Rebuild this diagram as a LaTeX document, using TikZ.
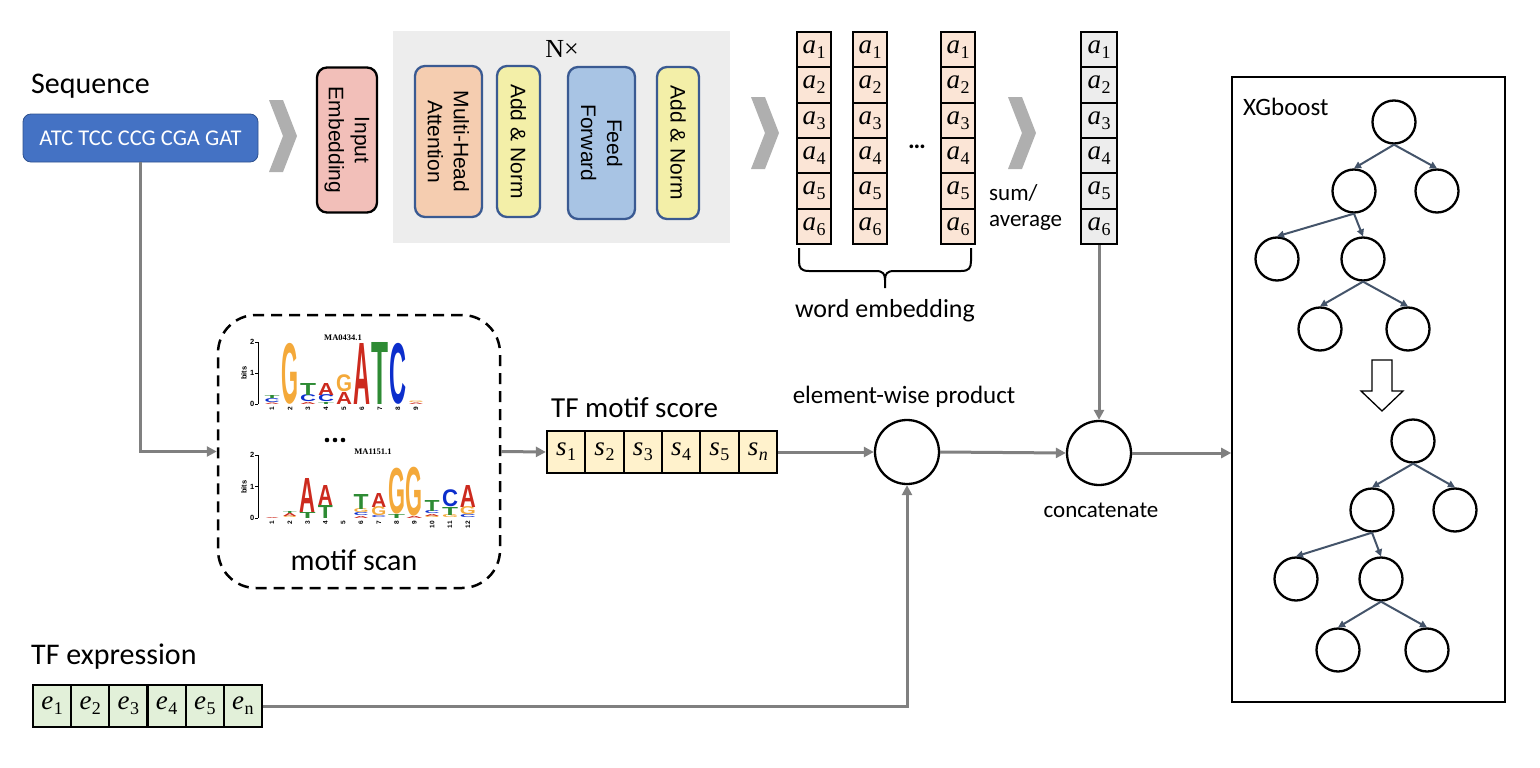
\documentclass[tikz,border=0pt]{standalone}
\usepackage{fontspec}
\setmainfont{Carlito}
\newfontfamily\arialf{Liberation Sans}
\newfontfamily\timesf{Liberation Serif}
\usetikzlibrary{arrows.meta}
\definecolor{seqblue}{HTML}{4472C4}
\definecolor{seqborder}{HTML}{2F528F}
\definecolor{chevgray}{HTML}{AFAFAF}
\definecolor{bggray}{HTML}{EDEDED}
\definecolor{iepink}{HTML}{F2BFB9}
\definecolor{mhpeach}{HTML}{F5CDB0}
\definecolor{anyellow}{HTML}{F3EFA8}
\definecolor{ffblue}{HTML}{A8C4E4}
\definecolor{boxblue}{HTML}{3A5A92}
\definecolor{wcellc}{HTML}{FBE5D6}
\definecolor{scorec}{HTML}{FFF2CC}
\definecolor{exprc}{HTML}{E2F0D9}
\definecolor{arrowgray}{HTML}{808080}
\definecolor{treeslate}{HTML}{44546A}
\definecolor{lgA}{HTML}{CC2A1E}
\definecolor{lgC}{HTML}{0C2ECC}
\definecolor{lgG}{HTML}{F4A93A}
\definecolor{lgT}{HTML}{2E8B34}
\newcommand{\logofont}{\arialf\bfseries}
% cell variable: letter (italic) with subscript
\newcommand{\vsub}[2]{{\timesf\itshape\fontsize{27}{27}\selectfont #1}\kern0.5pt\raisebox{-5pt}{\timesf\fontsize{18}{18}\selectfont #2}}
% cx, ybottom, height, colour, letter, width
\newcommand{\lgl}[6]{\node[inner sep=0pt, outer sep=0pt, anchor=south, text=#4] at (#1,#2) {\resizebox*{#6pt}{#3pt}{\logofont #5}};}
\begin{document}
\begin{tikzpicture}[x=1pt,y=-1pt,
  garrow/.style={draw=arrowgray, line width=3pt, -{Triangle[length=10pt,width=10pt]}},
  tarrow/.style={draw=treeslate, line width=2pt, -{Triangle[length=7pt,width=7pt]}},
  tnode/.style={circle, draw=black, line width=2.3pt, minimum size=43pt, inner sep=0pt},
  opnode/.style={circle, draw=black, line width=2.3pt, minimum size=64pt, inner sep=0pt},
  chev/.style={fill=chevgray},
  tbox/.style={draw=boxblue, line width=2.3pt, rounded corners=10pt, rotate=-90, align=center, inner sep=0pt,
     font=\arialf\fontsize{21}{26}\selectfont},
  wcell/.style={draw=black, line width=2.3pt, fill=wcellc, minimum width=34pt, minimum height=35.33pt, inner sep=0pt},
  fcell/.style={wcell, fill=bggray, minimum width=36pt},
  scell/.style={draw=black, line width=2.3pt, fill=scorec, minimum width=38.33pt, minimum height=42pt, inner sep=0pt},
  ecell/.style={scell, fill=exprc, minimum width=38.17pt},
  lbl/.style={inner sep=0pt, text=black},
  ticklbl/.style={inner sep=0pt, font=\arialf\bfseries\fontsize{6.5}{6.5}\selectfont},
]
\useasboundingbox (0,0) rectangle (1540,768);

% ---------------- top row ----------------
\node[lbl, anchor=west, font=\fontsize{30}{30}\selectfont] (seqlbl) at (31,86) {Sequence};
\node[fill=seqblue, draw=seqborder, line width=0.8pt, rounded corners=8pt, minimum width=235pt, minimum height=48pt,
      text=white, font=\fontsize{22.5}{22.5}\selectfont] (seq) at (140.5,138) {ATC TCC CCG CGA GAT};

\fill[chev] (269,100) -- (283,100) -- (297,136) -- (283,172) -- (269,172) -- (283,136) -- cycle;
\fill[chev] (751,97) -- (765,97) -- (779,133) -- (765,169) -- (751,169) -- (765,133) -- cycle;
\fill[chev] (1008,97) -- (1022,97) -- (1036,133) -- (1022,169) -- (1008,169) -- (1022,133) -- cycle;

\node[tbox, draw=black, fill=iepink, minimum width=145pt, minimum height=60pt] (ie) at (347,140) {Input\\Embedding};

\node[fill=bggray, minimum width=337pt, minimum height=212pt, inner sep=0pt] (tbg) at (561.5,137) {};
\node[lbl, font=\timesf\fontsize{26}{26}\selectfont] (nx) at (562,49) {N×};
\node[tbox, fill=mhpeach, minimum width=151pt, minimum height=67pt] (mh) at (448.5,141.5) {Multi-Head\\Attention};
\node[tbox, fill=anyellow, minimum width=151pt, minimum height=43pt] (an1) at (518.5,141.5) {Add \& Norm};
\node[tbox, fill=ffblue, minimum width=152pt, minimum height=67pt] (ff) at (601.5,143) {Feed\\Forward};
\node[tbox, fill=anyellow, minimum width=152pt, minimum height=42pt] (an2) at (678,143) {Add \& Norm};

% word embedding columns
\foreach \c/\x in {1/814,2/870,3/958}{
  \foreach \r in {1,...,6}{
    \node[wcell] (w\c r\r) at (\x,{32+35.33*(\r-0.5)}) {\vsub{a}{\r}};
  }
}
\node[lbl, font=\bfseries\fontsize{25}{25}\selectfont] (wdots) at (917,147) {…};
\foreach \r in {1,...,6}{
  \node[fcell] (f\r) at (1099,{32+35.33*(\r-0.5)}) {\vsub{a}{\r}};
}
\node[lbl, anchor=west, align=left, font=\fontsize{23}{26}\selectfont] (sumavg) at (989,207) {sum/\\average};

% brace
\draw[line width=2pt] (799,248) -- (799,261) .. controls (799,268) and (801,271) .. (809,271) -- (876,271)
   .. controls (883,271) and (885,274) .. (885,280) -- (885,288);
\draw[line width=2pt] (971,248) -- (971,261) .. controls (971,268) and (969,271) .. (961,271) -- (894,271)
   .. controls (887,271) and (885,274) .. (885,280);
\node[lbl, font=\fontsize{26}{26}\selectfont] (wemb) at (885,311) {word embedding};

% ---------------- motif scan ----------------
\node[draw=black, line width=2.5pt, dash pattern=on 11pt off 7pt, rounded corners=38pt,
      minimum width=282pt, minimum height=273pt, inner sep=0pt] (motif) at (359,451.5) {};
\node[lbl, font=\fontsize{30}{30}\selectfont] (mscan) at (354,560) {motif scan};

% logo 1
\node[lbl, font=\timesf\bfseries\fontsize{8.5}{8.5}\selectfont] (t1) at (343,338) {MA0434.1};
\draw[line width=0.9pt] (258,342) -- (258,404);
\foreach \yy/\tt in {342/2,373/1,404/0}{
  \draw[line width=0.9pt] (255,\yy) -- (258,\yy);
  \node[ticklbl, anchor=east, font=\arialf\bfseries\fontsize{7.5}{7.5}\selectfont] at (254.5,\yy) {\tt};
}
\node[ticklbl, rotate=90, font=\arialf\bfseries\fontsize{7.5}{7.5}\selectfont] at (244,373) {bits};
\foreach \i in {1,...,9}{
  \node[ticklbl, anchor=east, rotate=90] at ({272+18*(\i-1)},407) {\i};
}
\lgl{272}{404}{1.5}{lgA}{A}{15}
\lgl{272}{402.5}{4}{lgC}{C}{15}
\lgl{272}{398.5}{3}{lgT}{T}{15}
\lgl{290}{404}{61}{lgG}{G}{17}
\lgl{308}{404}{2}{lgA}{A}{16}
\lgl{308}{402}{7}{lgC}{C}{16}
\lgl{308}{395}{12}{lgT}{T}{16}
\lgl{326}{404}{2}{lgT}{T}{16}
\lgl{326}{402}{7}{lgC}{C}{16}
\lgl{326}{395}{12}{lgA}{A}{16}
\lgl{344}{404}{12}{lgA}{A}{16}
\lgl{344}{392}{17}{lgG}{G}{16}
\lgl{362}{404}{61}{lgA}{A}{17}
\lgl{380}{404}{62}{lgT}{T}{17}
\lgl{398}{404}{61}{lgC}{C}{17}
\lgl{416}{404}{1.5}{lgA}{A}{15}
\lgl{416}{402.5}{1.5}{lgG}{G}{15}

\fill (327,440) circle (2.3pt);
\fill (335,440) circle (2.3pt);
\fill (343,440) circle (2.3pt);

% logo 2
\node[lbl, font=\timesf\bfseries\fontsize{8.5}{8.5}\selectfont] (t2) at (373,452) {MA1151.1};
\draw[line width=0.9pt] (258,455) -- (258,518);
\foreach \yy/\tt in {455/2,486.5/1,518/0}{
  \draw[line width=0.9pt] (255,\yy) -- (258,\yy);
  \node[ticklbl, anchor=east, font=\arialf\bfseries\fontsize{7.5}{7.5}\selectfont] at (254.5,\yy) {\tt};
}
\node[ticklbl, rotate=90, font=\arialf\bfseries\fontsize{7.5}{7.5}\selectfont] at (244,487) {bits};
\foreach \i in {1,...,12}{
  \node[ticklbl, anchor=east, rotate=90] at ({272+17.8*(\i-1)},521) {\i};
}
\lgl{272}{518}{1}{lgA}{A}{14}
\lgl{289.8}{518}{2}{lgG}{G}{14}
\lgl{289.8}{516}{3}{lgA}{A}{14}
\lgl{289.8}{513}{2}{lgT}{T}{14}
\lgl{307.6}{518}{6}{lgT}{T}{16}
\lgl{307.6}{512}{34}{lgA}{A}{16}
\lgl{325.4}{518}{13}{lgT}{T}{15}
\lgl{325.4}{505}{20}{lgA}{A}{15}
\lgl{361}{518}{2}{lgA}{A}{15}
\lgl{361}{516}{3}{lgC}{C}{15}
\lgl{361}{513}{4}{lgG}{G}{15}
\lgl{361}{509}{15}{lgT}{T}{15}
\lgl{378.8}{518}{2}{lgC}{C}{15}
\lgl{378.8}{516}{9}{lgG}{G}{15}
\lgl{378.8}{507}{14}{lgA}{A}{15}
\lgl{396.6}{518}{4}{lgT}{T}{17}
\lgl{396.6}{514}{46}{lgG}{G}{17}
\lgl{414.4}{518}{2}{lgA}{A}{17}
\lgl{414.4}{516}{49}{lgG}{G}{17}
\lgl{432.2}{518}{2}{lgG}{G}{15}
\lgl{432.2}{516}{2}{lgA}{A}{15}
\lgl{432.2}{514}{3}{lgC}{C}{15}
\lgl{432.2}{511}{11}{lgT}{T}{15}
\lgl{450}{518}{3}{lgG}{G}{16}
\lgl{450}{515}{8}{lgT}{T}{16}
\lgl{450}{507}{17}{lgC}{C}{16}
\lgl{467.8}{518}{3}{lgC}{C}{16}
\lgl{467.8}{515}{8}{lgG}{G}{16}
\lgl{467.8}{507}{22}{lgA}{A}{16}

% ---------------- TF motif score ----------------
\node[lbl, anchor=west, font=\fontsize{29}{29}\selectfont] (tfms) at (551,408) {TF motif score};
\foreach \i/\s in {1/1,2/2,3/3,4/4,5/5,6/\itshape n}{
  \node[scell] (s\i) at ({547+38.33*(\i-0.5)},452) {\vsub{s}{\s}};
}
\node[lbl, font=\fontsize{25}{25}\selectfont] (ewp) at (904,397) {element-wise product};
\node[opnode] (prod) at (907,452) {};
\node[opnode] (cat) at (1099,453) {};
\node[lbl, font=\fontsize{23}{23}\selectfont] (catl) at (1101,510) {concatenate};

% ---------------- TF expression ----------------
\node[lbl, anchor=west, font=\fontsize{30}{30}\selectfont] (tfex) at (31,657) {TF expression};
\foreach \i/\s in {1/1,2/2,3/3,4/4,5/5,6/n}{
  \node[ecell] (e\i) at ({33+38.17*(\i-0.5)},706) {\vsub{e}{\s}};
}

% ---------------- XGboost ----------------
\node[draw=black, line width=1.6pt, minimum width=273pt, minimum height=625pt, inner sep=0pt] (xgb) at (1368.5,389.5) {};
\node[lbl, anchor=west, font=\fontsize{25}{25}\selectfont] (xgbl) at (1243,107) {XGboost};

\node[tnode] (ta) at (1394,122) {};
\node[tnode] (tb) at (1354,191) {};
\node[tnode] (tc) at (1437,191) {};
\node[tnode] (td) at (1277,259) {};
\node[tnode] (te) at (1363,259) {};
\node[tnode] (tf) at (1320,329) {};
\node[tnode] (tg) at (1408,329) {};
\draw[tarrow] (ta.south) -- (tb.north);
\draw[tarrow] (ta.south) -- (tc.north);
\draw[tarrow] (tb.south) -- (td.north);
\draw[tarrow] (tb.south) -- (te.north);
\draw[tarrow] (te.south) -- (tf.north);
\draw[tarrow] (te.south) -- (tg.north);

\draw[line width=1.3pt, fill=white] (1372,360) -- (1392,360) -- (1392,391) -- (1403,391) -- (1382,411)
   -- (1361,391) -- (1372,391) -- cycle;

\node[tnode] (ua) at (1413,441) {};
\node[tnode] (ub) at (1372,510) {};
\node[tnode] (uc) at (1455,510) {};
\node[tnode] (ud) at (1296,579) {};
\node[tnode] (ue) at (1381,579) {};
\node[tnode] (uf) at (1338,650) {};
\node[tnode] (ug) at (1427,650) {};
\draw[tarrow] (ua.south) -- (ub.north);
\draw[tarrow] (ua.south) -- (uc.north);
\draw[tarrow] (ub.south) -- (ud.north);
\draw[tarrow] (ub.south) -- (ue.north);
\draw[tarrow] (ue.south) -- (uf.north);
\draw[tarrow] (ue.south) -- (ug.north);

% ---------------- connectors ----------------
\draw[garrow] (seq.south) |- (motif.west);
\draw[garrow] (motif.east) -- (s1.west);
\draw[garrow] (s6.east) -- (prod.west);
\draw[garrow] (prod.east) -- (cat.west);
\draw[garrow] (f6.south) -- (cat.north);
\draw[garrow] (cat.east) -- (cat.east -| xgb.west);
\draw[garrow] (e6.east) -| (prod.south);
\end{tikzpicture}
\end{document}
